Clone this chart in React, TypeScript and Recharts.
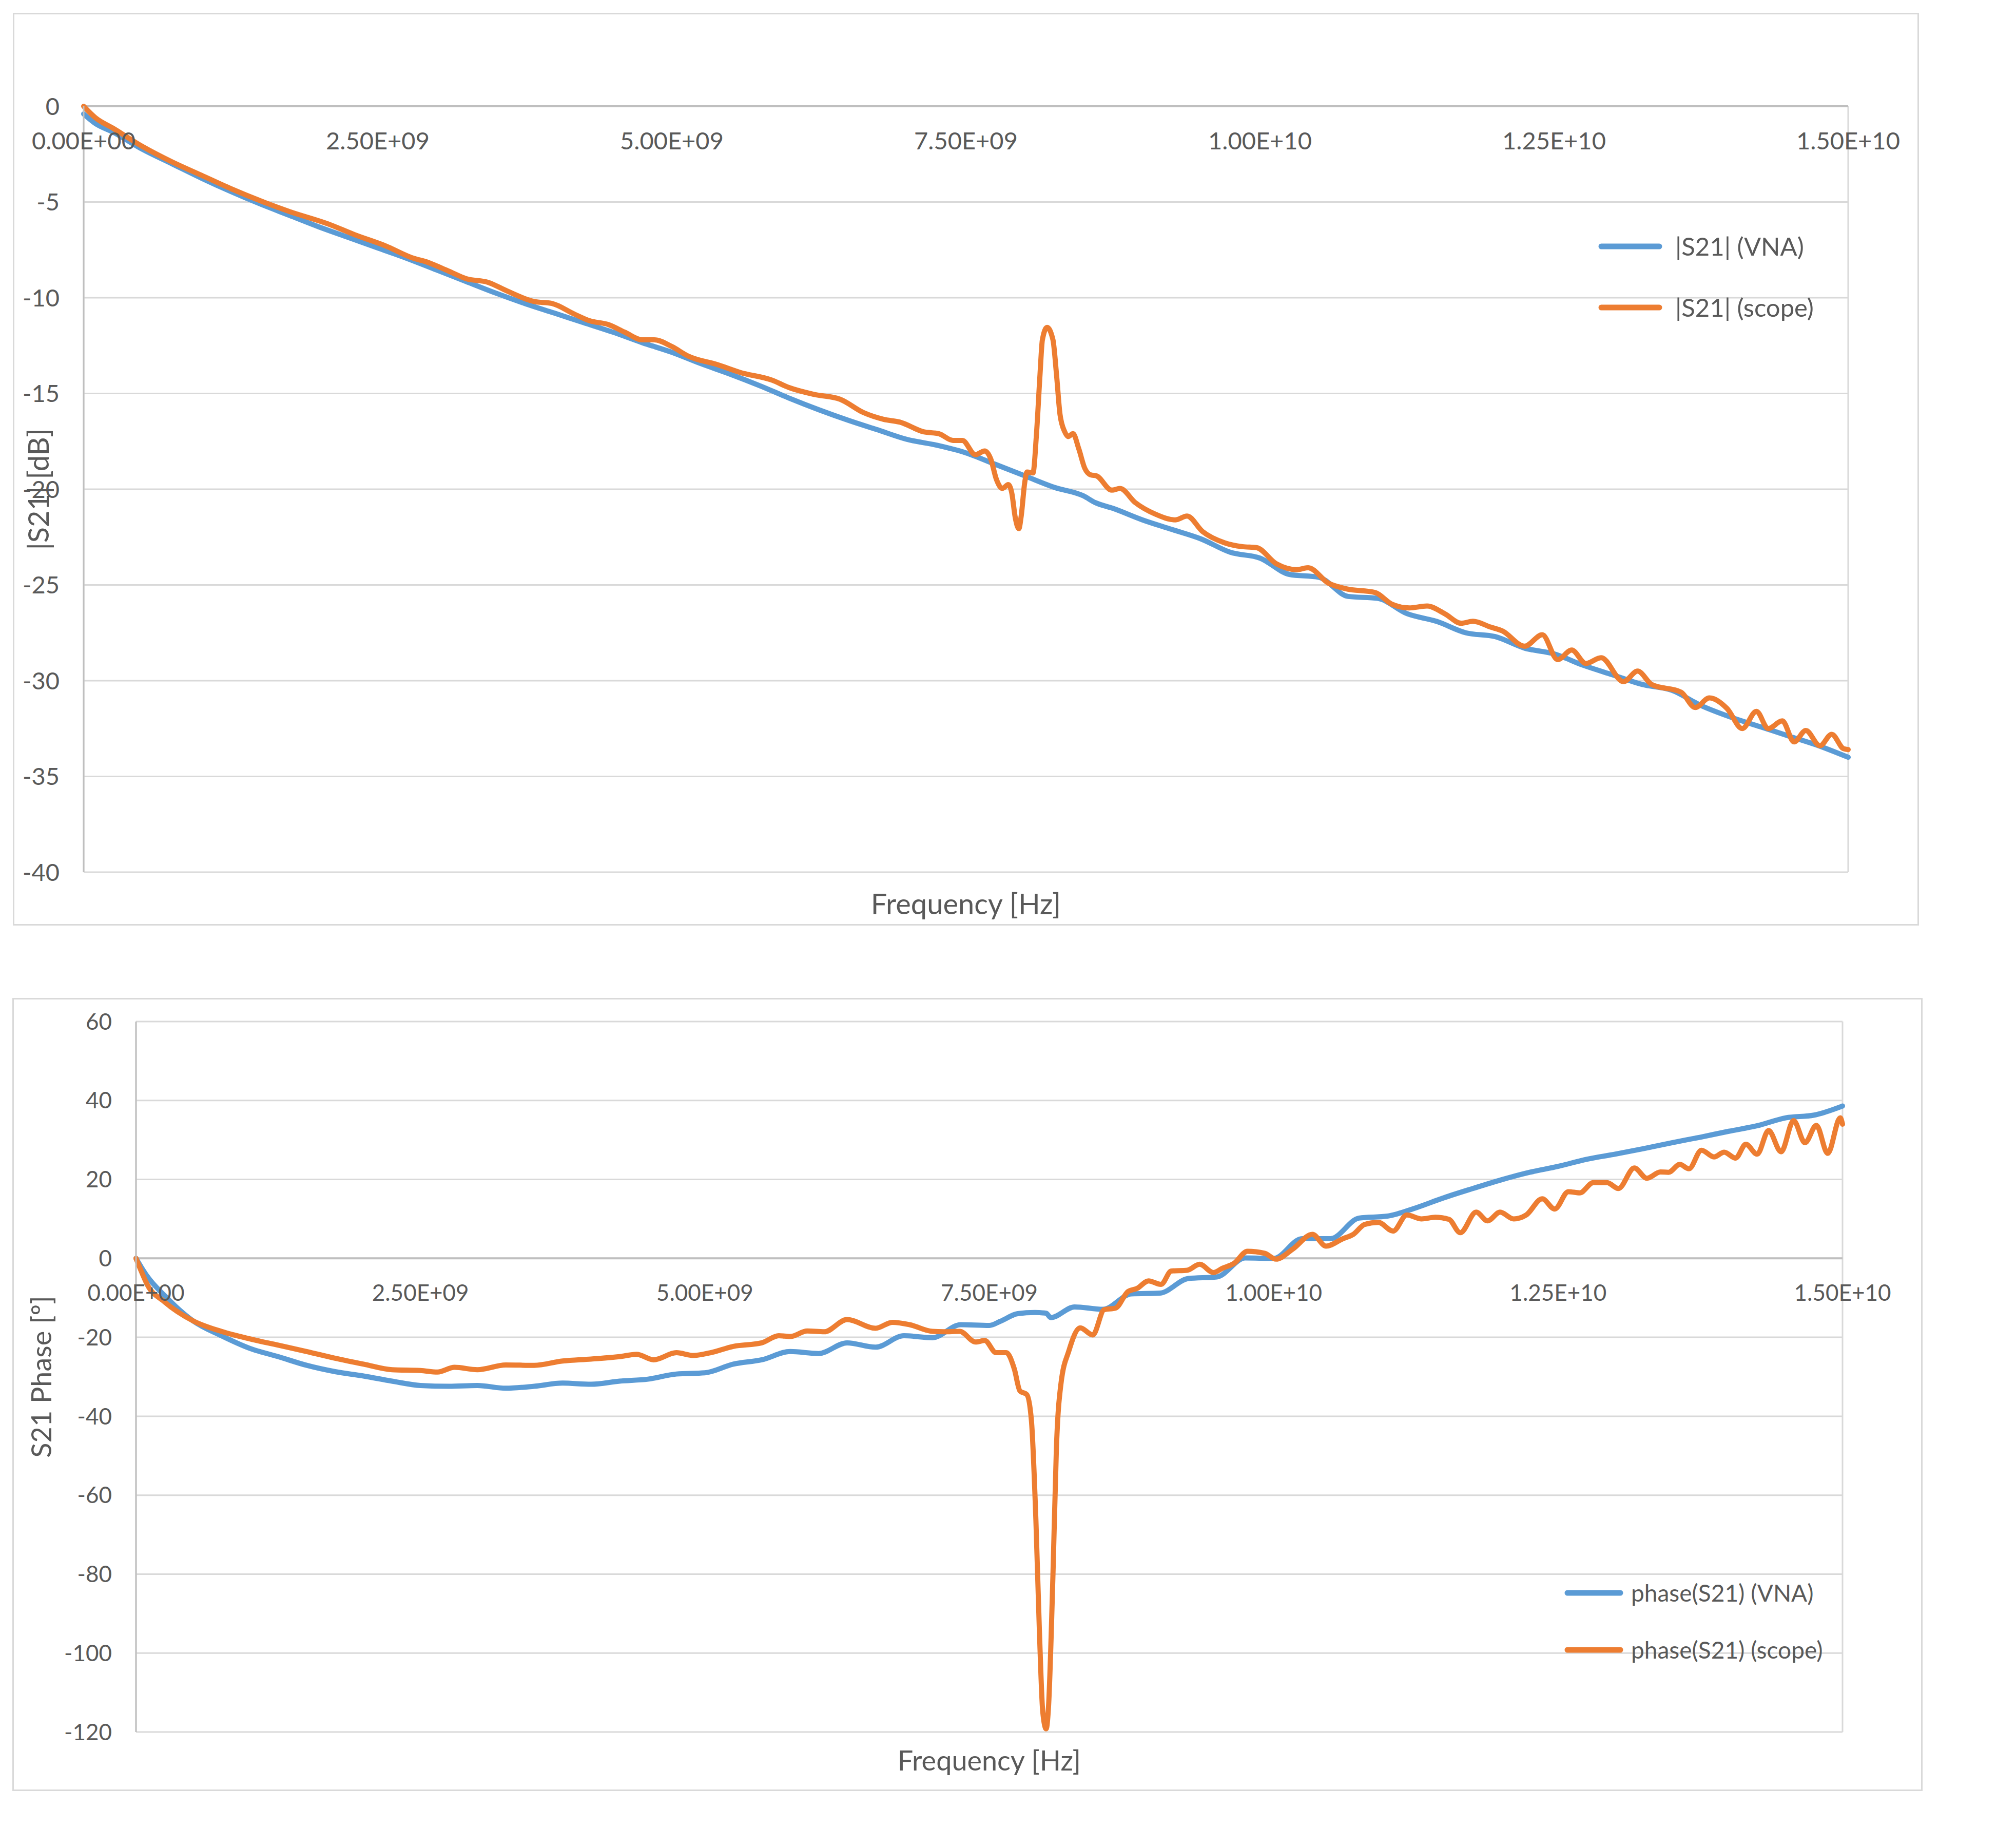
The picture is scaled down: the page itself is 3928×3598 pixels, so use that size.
import React from "react"
import { LineChart, Line, XAxis, YAxis, CartesianGrid, ReferenceLine, ReferenceDot, Legend } from "recharts"

const FONT = "Lato, 'Open Sans', sans-serif"
const TEXT = "#595959"
const GRID = "#D9D9D9"
const AXIS = "#BFBFBF"
const BLUE = "#5B9BD5"
const ORANGE = "#ED7D31"

// frequency axis, Hz
const xTicks = [0, 2.5e9, 5e9, 7.5e9, 1e10, 1.25e10, 1.5e10]
const xTickLabels = ["0.00E+00", "2.50E+09", "5.00E+09", "7.50E+09", "1.00E+10", "1.25E+10", "1.50E+10"]

const magTicks = [0, -5, -10, -15, -20, -25, -30, -35, -40]
const phaseTicks = [60, 40, 20, 0, -20, -40, -60, -80, -100, -120]

// [GHz, dB]
const magVna: [number, number][] = [
  [0, -0.4], [0.1, -0.9], [0.25, -1.35], [0.5, -2.25], [0.75, -3.0], [1, -3.75], [1.25, -4.45], [1.5, -5.1],
  [1.75, -5.7], [2, -6.3], [2.25, -6.85], [2.5, -7.4], [2.75, -7.95], [3, -8.55], [3.25, -9.15], [3.5, -9.75],
  [3.75, -10.3], [4, -10.8], [4.25, -11.3], [4.5, -11.8], [4.75, -12.35], [5, -12.85], [5.25, -13.45], [5.5, -14.0],
  [5.75, -14.6], [6, -15.25], [6.25, -15.85], [6.5, -16.4], [6.75, -16.9], [7, -17.4], [7.25, -17.7], [7.5, -18.1],
  [7.75, -18.7], [8, -19.3], [8.25, -19.9], [8.5, -20.35], [8.6, -20.7], [8.75, -21.0], [9, -21.6], [9.25, -22.1],
  [9.5, -22.6], [9.75, -23.3], [10, -23.6], [10.25, -24.45], [10.5, -24.6], [10.75, -25.6], [11, -25.7], [11.25, -26.5],
  [11.5, -26.9], [11.75, -27.5], [12, -27.7], [12.25, -28.3], [12.5, -28.6], [12.75, -29.2], [13, -29.7], [13.25, -30.2],
  [13.5, -30.5], [13.75, -31.3], [14, -31.9], [14.25, -32.4], [14.5, -32.9], [14.75, -33.4], [15, -34.0],
]

const magScope: [number, number][] = [
  [0, 0], [0.1, -0.6], [0.25, -1.15], [0.5, -2.1], [0.75, -2.9], [1, -3.6], [1.25, -4.3], [1.55, -5.05],
  [1.75, -5.5], [2.08, -6.15], [2.3, -6.7], [2.57, -7.3], [2.81, -7.95], [2.9, -8.1], [3.1, -8.6], [3.25, -9.0],
  [3.44, -9.2], [3.6, -9.65], [3.83, -10.2], [3.98, -10.3], [4.17, -10.85], [4.3, -11.2], [4.46, -11.4], [4.6, -11.8],
  [4.75, -12.2], [4.85, -12.2], [5, -12.55], [5.14, -13.05], [5.39, -13.5], [5.58, -13.9], [5.85, -14.3], [6, -14.7],
  [6.21, -15.05], [6.43, -15.3], [6.63, -16.0], [6.8, -16.35], [6.94, -16.5], [7.14, -17.0], [7.27, -17.1], [7.39, -17.45],
  [7.47, -17.45], [7.58, -18.2], [7.66, -18.0], [7.71, -18.4], [7.76, -19.5], [7.81, -19.96], [7.86, -19.76], [7.89, -20.2],
  [7.92, -21.5], [7.95, -22.06], [7.97, -21.4], [8.0, -19.65], [8.02, -19.1], [8.07, -19.15], [8.1, -17.1], [8.13, -14.0],
  [8.15, -12.2], [8.19, -11.55], [8.24, -12.2], [8.27, -14.0], [8.3, -16.1], [8.34, -17.0], [8.37, -17.25], [8.41, -17.1],
  [8.46, -17.9], [8.51, -18.9], [8.56, -19.25], [8.61, -19.3], [8.74, -20.05], [8.81, -19.96], [8.94, -20.7], [9.11, -21.3],
  [9.28, -21.6], [9.38, -21.4], [9.51, -22.2], [9.7, -22.8], [9.85, -23.0], [9.97, -23.05], [10.14, -23.9], [10.31, -24.2],
  [10.41, -24.1], [10.58, -24.9], [10.73, -25.2], [10.98, -25.4], [11.12, -26.0], [11.27, -26.2], [11.42, -26.1], [11.57, -26.5],
  [11.71, -27.0], [11.81, -26.9], [11.96, -27.2], [12.06, -27.4], [12.25, -28.2], [12.4, -27.6], [12.53, -28.9], [12.65, -28.4],
  [12.77, -29.1], [12.9, -28.8], [13.09, -30.05], [13.21, -29.5], [13.33, -30.2], [13.58, -30.6], [13.7, -31.4], [13.82, -30.9],
  [13.97, -31.45], [14.1, -32.5], [14.22, -31.6], [14.32, -32.5], [14.44, -32.1], [14.54, -33.2], [14.64, -32.6], [14.76, -33.4],
  [14.86, -32.8], [14.96, -33.55], [15, -33.6],
]

// [GHz, degrees]
const phaseVna: [number, number][] = [
  [0, 0], [0.05, -2.4], [0.1, -4.6], [0.25, -9.4], [0.5, -15.8], [0.75, -19.6], [1, -22.8], [1.25, -24.9],
  [1.5, -27.1], [1.75, -28.7], [2, -29.8], [2.25, -31.1], [2.5, -32.2], [2.75, -32.4], [3, -32.2], [3.25, -32.9],
  [3.5, -32.4], [3.75, -31.6], [4, -31.9], [4.25, -31.1], [4.5, -30.6], [4.75, -29.3], [5, -29.0], [5.25, -26.8],
  [5.5, -25.7], [5.75, -23.6], [6, -24.1], [6.25, -21.4], [6.5, -22.5], [6.75, -19.6], [7, -20.1], [7.25, -16.8],
  [7.5, -17.0], [7.6, -15.9], [7.75, -14.0], [7.9, -13.7], [8, -13.9], [8.04, -15.0], [8.25, -12.3], [8.5, -12.9],
  [8.75, -9.0], [9, -8.8], [9.25, -5.1], [9.5, -4.7], [9.75, 0.1], [10, 0], [10.25, 5.0], [10.5, 5.0],
  [10.75, 10.2], [11, 10.7], [11.25, 12.8], [11.5, 15.4], [11.75, 17.7], [12, 19.9], [12.25, 21.8], [12.5, 23.3],
  [12.75, 25.1], [13, 26.4], [13.25, 27.8], [13.5, 29.3], [13.75, 30.7], [14, 32.2], [14.25, 33.6], [14.5, 35.6],
  [14.75, 36.3], [15, 38.6],
]

const phaseScope: [number, number][] = [
  [0, 0], [0.05, -3.5], [0.1, -6.7], [0.25, -11.0], [0.5, -15.8], [0.75, -18.5], [1, -20.4], [1.25, -22.0],
  [1.5, -23.6], [1.75, -25.3], [2, -26.8], [2.25, -28.2], [2.5, -28.4], [2.65, -28.8], [2.8, -27.6], [3, -28.2],
  [3.25, -27.0], [3.5, -27.1], [3.75, -26.0], [4, -25.5], [4.25, -24.9], [4.4, -24.3], [4.55, -25.7], [4.75, -23.9],
  [4.9, -24.6], [5.05, -23.9], [5.25, -22.3], [5.5, -21.4], [5.65, -19.6], [5.75, -19.8], [5.9, -18.4], [6.05, -18.6],
  [6.25, -15.5], [6.5, -17.7], [6.65, -16.2], [6.8, -16.8], [7, -18.5], [7.1, -18.6], [7.24, -18.5], [7.38, -21.2],
  [7.46, -20.8], [7.56, -23.9], [7.65, -23.9], [7.72, -28.0], [7.77, -33.6], [7.83, -34.5], [7.87, -40.9], [7.91, -66.4],
  [7.94, -93.8], [7.97, -114.8], [8.0, -119.2], [8.02, -114], [8.06, -80], [8.09, -48.2], [8.13, -31.8], [8.2, -23.4],
  [8.3, -17.6], [8.41, -19.4], [8.51, -13.0], [8.61, -12.6], [8.72, -8.4], [8.8, -7.6], [8.9, -5.7], [9.01, -6.6],
  [9.1, -3.2], [9.24, -3.0], [9.35, -1.5], [9.47, -3.6], [9.55, -2.5], [9.65, -1.3], [9.77, 1.8], [9.92, 1.3],
  [10.02, -0.2], [10.17, 2.4], [10.34, 6.1], [10.46, 3.1], [10.61, 5.0], [10.7, 6.1], [10.8, 8.6], [10.92, 9.1],
  [11.05, 6.9], [11.17, 11.0], [11.3, 10.0], [11.42, 10.4], [11.54, 9.9], [11.64, 6.5], [11.78, 11.7], [11.88, 9.5],
  [11.99, 11.7], [12.11, 10.0], [12.22, 11.0], [12.36, 15.1], [12.47, 12.5], [12.59, 16.9], [12.69, 16.6], [12.81, 19.2],
  [12.93, 19.2], [13.03, 17.7], [13.17, 22.9], [13.28, 20.3], [13.4, 21.9], [13.47, 21.8], [13.57, 23.8], [13.65, 22.7],
  [13.76, 27.4], [13.87, 25.7], [13.96, 26.9], [14.06, 25.4], [14.15, 28.9], [14.25, 26.4], [14.35, 32.4], [14.46, 27.0],
  [14.57, 34.9], [14.67, 29.3], [14.77, 33.7], [14.87, 26.6], [14.98, 35.6], [15, 34.0],
]

const toRows = (pts: [number, number][]) => pts.map(([ghz, v]) => ({ f: ghz * 1e9, v }))

// axis titles: Recharts passes the axis viewBox, we only pick the centre
function YTitle({ viewBox, text, titleX, fontSize }: any) {
  const cy = viewBox.y + viewBox.height / 2
  return (
    <text x={titleX} y={cy} transform={`rotate(-90, ${titleX}, ${cy})`} textAnchor="middle" dominantBaseline="central"
      fill={TEXT} fontSize={fontSize} fontFamily={FONT}>
      {text}
    </text>
  )
}

function XTitle({ viewBox, text, gapY, fontSize }: any) {
  const cx = viewBox.x + viewBox.width / 2
  const cy = viewBox.y + gapY
  return (
    <text x={cx} y={cy} textAnchor="middle" dominantBaseline="central" fill={TEXT} fontSize={fontSize} fontFamily={FONT}>
      {text}
    </text>
  )
}

function legendContent(lineLen: number, gap: number, rowH: number, fontSize: number) {
  return ({ payload }: any) => (
    <div>
      {(payload || []).map((e: any) => (
        <div key={e.value} style={{ display: "flex", alignItems: "center", height: rowH }}>
          <svg width={lineLen} height={14} style={{ marginRight: gap, flex: "none" }}>
            <line x1={6} y1={7} x2={lineLen - 6} y2={7} stroke={e.color} strokeWidth={11} strokeLinecap="round" />
          </svg>
          <span style={{ fontSize, fontFamily: FONT, color: TEXT, lineHeight: 1, whiteSpace: "nowrap" }}>{e.value}</span>
        </div>
      ))}
    </div>
  )
}

interface ChartProps {
  box: { left: number; top: number; width: number; height: number }
  margin: { top: number; right: number; bottom: number }
  yWidth: number
  yDomain: [number, number]
  yTicks: number[]
  tickFont: number
  titleFont: number
  yTitle: string
  yTitleX: number
  xTitleGap: number
  legend: { left: number; top: number; lineLen: number; gap: number; rowH: number; fontSize: number }
  vna: [number, number][]
  scope: [number, number][]
  names: [string, string]
}

function SChart(p: ChartProps) {
  const w = p.box.width - 6
  const h = p.box.height - 6
  return (
    <div
      style={{
        position: "absolute",
        left: p.box.left,
        top: p.box.top,
        width: p.box.width,
        height: p.box.height,
        border: `3px solid ${GRID}`,
        boxSizing: "border-box",
        background: "#fff",
      }}
    >
      <LineChart width={w} height={h} margin={{ top: p.margin.top, right: p.margin.right, bottom: p.margin.bottom, left: 0 }}>
        <CartesianGrid stroke={GRID} strokeWidth={3} />
        <XAxis
          type="number"
          dataKey="f"
          domain={[0, 1.5e10]}
          ticks={xTicks}
          height={1}
          tick={false}
          tickLine={false}
          axisLine={false}
          label={<XTitle text="Frequency [Hz]" gapY={p.xTitleGap} fontSize={p.titleFont} />}
        />
        <YAxis
          type="number"
          domain={p.yDomain}
          ticks={p.yTicks}
          width={p.yWidth}
          interval={0}
          tickLine={false}
          tickSize={0}
          tickMargin={47}
          axisLine={{ stroke: AXIS, strokeWidth: 3 }}
          tick={{ fill: TEXT, fontSize: p.tickFont, fontFamily: FONT }}
          label={<YTitle text={p.yTitle} titleX={p.yTitleX} fontSize={p.titleFont} />}
        />
        <ReferenceLine y={0} stroke={AXIS} strokeWidth={4} />
        {xTicks.map((t, i) => (
          <ReferenceDot
            key={t}
            x={t}
            y={0}
            r={1}
            fill="none"
            stroke="none"
            label={{ value: xTickLabels[i], position: "bottom", offset: 50, fill: TEXT, fontSize: p.tickFont, fontFamily: FONT }}
          />
        ))}
        <Legend
          layout="vertical"
          align="center"
          verticalAlign="middle"
          wrapperStyle={{ left: p.legend.left, top: p.legend.top, width: 700 }}
          content={legendContent(p.legend.lineLen, p.legend.gap, p.legend.rowH, p.legend.fontSize)}
        />
        <Line
          data={toRows(p.vna)}
          dataKey="v"
          name={p.names[0]}
          type="monotone"
          stroke={BLUE}
          strokeWidth={10}
          strokeLinecap="round"
          strokeLinejoin="round"
          dot={false}
          activeDot={false}
          isAnimationActive={false}
        />
        <Line
          data={toRows(p.scope)}
          dataKey="v"
          name={p.names[1]}
          type="monotone"
          stroke={ORANGE}
          strokeWidth={10}
          strokeLinecap="round"
          strokeLinejoin="round"
          dot={false}
          activeDot={false}
          isAnimationActive={false}
        />
      </LineChart>
    </div>
  )
}

export default function App() {
  return (
    <div style={{ position: "absolute", left: 0, top: 0, width: 3928, height: 3598, background: "#fff" }}>
      <SChart
        box={{ left: 25, top: 25, width: 3714, height: 1778 }}
        margin={{ top: 179, right: 135, bottom: 100 }}
        yWidth={135}
        yDomain={[-40, 0]}
        yTicks={magTicks}
        tickFont={47}
        titleFont={56}
        yTitle="|S21| [dB]"
        yTitleX={45}
        xTitleGap={60}
        legend={{ left: 3086, top: 392, lineLen: 125, gap: 25, rowH: 119, fontSize: 49 }}
        vna={magVna}
        scope={magScope}
        names={["|S21| (VNA)", "|S21| (scope)"]}
      />
      <SChart
        box={{ left: 24, top: 1944, width: 3722, height: 1545 }}
        margin={{ top: 43, right: 153, bottom: 111 }}
        yWidth={238}
        yDomain={[-120, 60]}
        yTicks={phaseTicks}
        tickFont={44}
        titleFont={54}
        yTitle="S21 Phase [º]"
        yTitleX={52}
        xTitleGap={54}
        legend={{ left: 3021, top: 1100, lineLen: 115, gap: 15, rowH: 111, fontSize: 46 }}
        vna={phaseVna}
        scope={phaseScope}
        names={["phase(S21) (VNA)", "phase(S21) (scope)"]}
      />
    </div>
  )
}
